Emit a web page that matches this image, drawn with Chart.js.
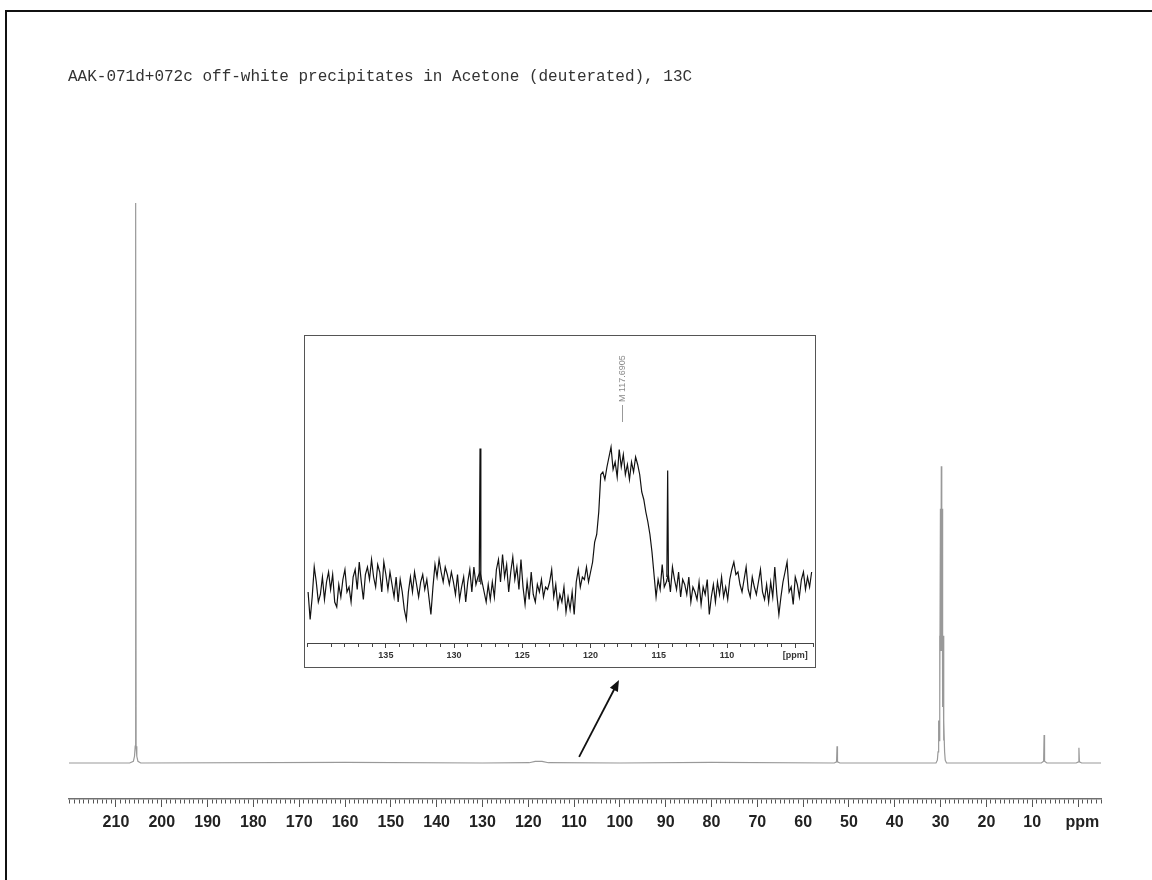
<!DOCTYPE html>
<html>
<head>
<meta charset="utf-8">
<title>AAK-071d+072c 13C</title>
<script src="https://cdn.jsdelivr.net/npm/chart.js@4.4.1/dist/chart.umd.min.js"></script>
<style>
  html, body { margin: 0; padding: 0; background: #fff; }
  #page { position: relative; width: 1152px; height: 880px; overflow: hidden; background: #fff; }
  #main-chart { position: absolute; left: 0; top: 0; }
  #frame { position: absolute; left: 5px; top: 10px; width: 1200px; height: 900px;
           border-left: 2px solid #111; border-top: 2px solid #111; pointer-events: none; }
  #title { position: absolute; left: 68px; top: 69px; color: #333; white-space: pre;
           font: 16px/16px 'Liberation Mono', 'DejaVu Sans Mono', monospace; }
  #inset-wrap { position: absolute; left: 304px; top: 335px; width: 510px; height: 331px;
                border: 1px solid #555; background: #fff; }
  #inset-chart { display: block; }
</style>
</head>
<body>
<div id="page">
  <canvas id="main-chart" width="1152" height="880"></canvas>
  <div id="frame"></div>
  <div id="title">AAK-071d+072c off-white precipitates in Acetone (deuterated), 13C</div>
  <div id="inset-wrap"><canvas id="inset-chart" width="510" height="331"></canvas></div>
</div>
<script>
// full spectrum: chemical shift (ppm) and relative intensity
const mainPpm = [220.25, 207.0, 206.2, 205.95, 205.8, 205.7, 205.6, 205.45, 205.2, 204.6,
    160, 130, 119.8, 118.5, 117.0, 115.6, 100, 80,
    53.2, 52.7, 52.6, 52.5, 52.0,
    31.0, 30.7, 30.55, 30.42, 30.33, 30.23, 30.13, 30.03, 29.94, 29.84,
    29.74, 29.65, 29.55, 29.45, 29.36, 29.26, 29.12, 28.98, 28.7,
    8.0, 7.5, 7.4, 7.3, 6.8,
    0.4, -0.1, -0.2, -0.3, -0.8, -5.02];
const mainInt = [0, 0, 0.3, 1.2, 3, 100, 3, 1.2, 0.3, 0,
    0.1, 0, 0.05, 0.3, 0.3, 0.05, 0, 0.1,
    0, 0.2, 3.0, 0.2, 0,
    0, 0.5, 2, 7.6, 4, 22.7, 10, 45.4, 20, 53,
    20, 45.4, 10, 22.7, 4, 7.6, 2, 0.5, 0,
    0, 0.3, 5.0, 0.3, 0,
    0, 0.2, 2.7, 0.2, 0, 0];

// inset: 140.7 -> 103.8 ppm, one reading every 0.15 ppm
const insetStart = 140.7;
const insetStep = 0.15;
const insetInt = [
    -1, -6.5, -2, 4, 1, -3, -1.5, 2, -2.5, 1,
    3, -0.5, 2.5, -3, -4, 0.5, -2, 1.5, 3.5, -1,
    0, -3, 2, 3.5, -0.5, 5, 1, -2.5, 2.5, 4,
    1.5, 5.5, 2, 0, 4.5, 3, -1, 5, 2.5, -0.5,
    3, 0.5, -2, 2, -3, 1.5, -1, -4.5, -6.5, -1,
    2, -1, 3, 0.5, -2, 1, 2.5, -0.5, 1.5, -2,
    -5.5, 0, 4.5, 2, 5.5, 3, 1, 4, 2.5, 0.5,
    3, 1, -1.5, 2.5, -2.5, 0, 2, -3, 1, 3.5,
    -1, 4, 0.5, 2, 3, 1, -1, -3, 0.5, -2.5,
    1, -2, 3.5, 5.5, 1, 6.5, 2, 4.5, -1, 3,
    6, 1.5, 4, -0.5, 5.5, 0, -3.5, 1, -2.5, 3,
    -1.5, -3, 0.5, -1, 1.5, -2, 0, -0.5, 1, 3.5,
    -2, 0.5, -4, -1.5, -3, 0, -5, -2, -4.5, -1,
    -5.5, 1, 3.5, 0, 2, 1.5, 4, 1, 3, 5,
    9, 10.5, 15, 22.5, 23, 21.5, 24, 26, 28, 23.5,
    25, 22, 27.5, 24, 26.5, 22.5, 24.5, 21.5, 25, 23,
    26, 24.5, 22.5, 19, 17.5, 15, 13, 10.5, 7, 2.5,
    -2, 1.5, -0.5, 4.5, 0, 1, 2.5, -1, 4, 1.5,
    -0.5, 3, -2, 1.5, 0.5, -1.5, 2, -3, 0, -1,
    -2.5, 1, -3.5, 0, -1.5, 1.5, -5.5, -2, 0.5, -3,
    1, -1.5, 2, -2, 0, -2.5, 1.5, 3.5, 5, 2.5,
    3, 0.5, -1, 1.5, 4, -0.5, -2, 2, 0, -1.5,
    1, 3.5, -1, -2.5, 0.5, -3, 1, -2, 4, -1.5,
    -5.5, -2, 1, 3, 5, -1, 0, -3.5, 2, 0.5,
    -2, 1.5, 3, -0.5, 2, 0, 3
];
// two sharp lines on top of the inset noise
const spikeAPpm = [128.16, 128.1, 128.04];
const spikeAInt = [1, 27.7, 0.5];
const spikeBPpm = [114.41, 114.35, 114.29];
const spikeBInt = [2, 23.3, 1];

const peakLabelPpm = 117.6905;
const peakLabelText = 'M 117.6905';
const arrowFrom = [108.9, 1.1];
const arrowTo = [100.2, 14.8];

Chart.defaults.font.family = "'Liberation Sans', Arial, sans-serif";

function isMultiple(v, n) {
    const r = Math.round(v);
    return Math.abs(v - r) < 1e-6 && r % n === 0;
}

function toPoints(xs, ys) {
    return xs.map((x, i) => ({ x: x, y: ys[i] }));
}

const arrowPlugin = {
    id: 'arrow',
    afterDatasetsDraw(chart) {
        const { ctx, scales: { x, y } } = chart;
        const x1 = x.getPixelForValue(arrowFrom[0]), y1 = y.getPixelForValue(arrowFrom[1]);
        const x2 = x.getPixelForValue(arrowTo[0]),   y2 = y.getPixelForValue(arrowTo[1]);
        const a = Math.atan2(y2 - y1, x2 - x1);
        const c = Math.cos(a), s = Math.sin(a);
        ctx.save();
        ctx.strokeStyle = '#111';
        ctx.fillStyle = '#111';
        ctx.lineWidth = 1.8;
        ctx.beginPath();
        ctx.moveTo(x1, y1);
        ctx.lineTo(x2 - 8 * c, y2 - 8 * s);
        ctx.stroke();
        ctx.beginPath();
        ctx.moveTo(x2, y2);
        ctx.lineTo(x2 - 11 * c + 4.5 * s, y2 - 11 * s - 4.5 * c);
        ctx.lineTo(x2 - 11 * c - 4.5 * s, y2 - 11 * s + 4.5 * c);
        ctx.closePath();
        ctx.fill();
        ctx.restore();
    }
};

const peakLabelPlugin = {
    id: 'peakLabel',
    afterDatasetsDraw(chart) {
        const { ctx, scales: { x, y } } = chart;
        const px = Math.round(x.getPixelForValue(peakLabelPpm)) + 0.5;
        ctx.save();
        ctx.strokeStyle = '#999';
        ctx.lineWidth = 1;
        ctx.beginPath();
        ctx.moveTo(px, y.getPixelForValue(33));
        ctx.lineTo(px, y.getPixelForValue(36.4));
        ctx.stroke();
        ctx.translate(px, y.getPixelForValue(37));
        ctx.rotate(-Math.PI / 2);
        ctx.fillStyle = '#8a8a8a';
        ctx.font = "9px 'Liberation Sans', Arial, sans-serif";
        ctx.textAlign = 'left';
        ctx.textBaseline = 'middle';
        ctx.fillText(peakLabelText, 0, 0);
        ctx.restore();
    }
};

// full spectrum
new Chart(document.getElementById('main-chart'), {
    type: 'line',
    data: {
        datasets: [{
            data: toPoints(mainPpm, mainInt),
            borderColor: '#999999',
            borderWidth: 1.2,
            pointRadius: 0,
            tension: 0,
            fill: false
        }]
    },
    options: {
        responsive: false,
        animation: false,
        layout: { padding: { left: 69, right: 51, top: 203, bottom: 0 } },
        plugins: { legend: { display: false }, tooltip: { enabled: false } },
        scales: {
            x: {
                type: 'linear',
                reverse: true,
                min: -5.02,
                max: 220.25,
                afterFit(scale) { scale.height = 81; },
                border: { display: true, color: '#707070', width: 1.5 },
                grid: {
                    drawOnChartArea: false,
                    tickLength: 8,
                    tickColor: '#555',
                    tickWidth: 1,
                    tickBorderDash: (c) => (c.tick && isMultiple(c.tick.value, 10)) ? [] : [4, 40]
                },
                ticks: {
                    stepSize: 1,
                    autoSkip: false,
                    maxRotation: 0,
                    padding: 6,
                    color: '#222',
                    font: { size: 16, weight: 'bold' },
                    callback: (v) => {
                        if (!isMultiple(v, 10)) return '';
                        const r = Math.round(v);
                        return r === 0 ? '  ppm' : String(r);
                    }
                }
            },
            y: { display: false, min: -6.43, max: 100 }
        }
    },
    plugins: [arrowPlugin]
});

// zoomed inset 140 - 104 ppm
const insetPoints = insetInt.map((v, i) => ({ x: insetStart - insetStep * i, y: v }));
const lineStyle = { borderColor: '#111', borderWidth: 1.2, pointRadius: 0, tension: 0, fill: false };

new Chart(document.getElementById('inset-chart'), {
    type: 'line',
    data: {
        datasets: [
            Object.assign({ data: insetPoints }, lineStyle),
            Object.assign({ data: toPoints(spikeAPpm, spikeAInt) }, lineStyle),
            Object.assign({ data: toPoints(spikeBPpm, spikeBInt) }, lineStyle)
        ]
    },
    options: {
        responsive: false,
        animation: false,
        layout: { padding: { left: 0, right: 0, top: 2, bottom: 0 } },
        plugins: { legend: { display: false }, tooltip: { enabled: false } },
        scales: {
            x: {
                type: 'linear',
                reverse: true,
                min: 103.7,
                max: 140.78,
                afterFit(scale) { scale.height = 24; },
                border: { display: true, color: '#444', width: 1 },
                grid: {
                    drawOnChartArea: false,
                    tickLength: 5,
                    tickColor: '#444',
                    tickWidth: 1,
                    tickBorderDash: (c) => (c.tick && isMultiple(c.tick.value, 5)) ? [] : [3, 40]
                },
                ticks: {
                    stepSize: 1,
                    autoSkip: false,
                    maxRotation: 0,
                    padding: 2,
                    color: '#333',
                    font: { size: 9, weight: 'bold' },
                    callback: (v) => {
                        if (!isMultiple(v, 5)) return '';
                        const r = Math.round(v);
                        if (r === 105) return '[ppm]';
                        return r >= 140 ? '' : String(r);
                    }
                }
            },
            y: { display: false, min: -11.2, max: 49.8 }
        }
    },
    plugins: [peakLabelPlugin]
});
</script>
</body>
</html>
